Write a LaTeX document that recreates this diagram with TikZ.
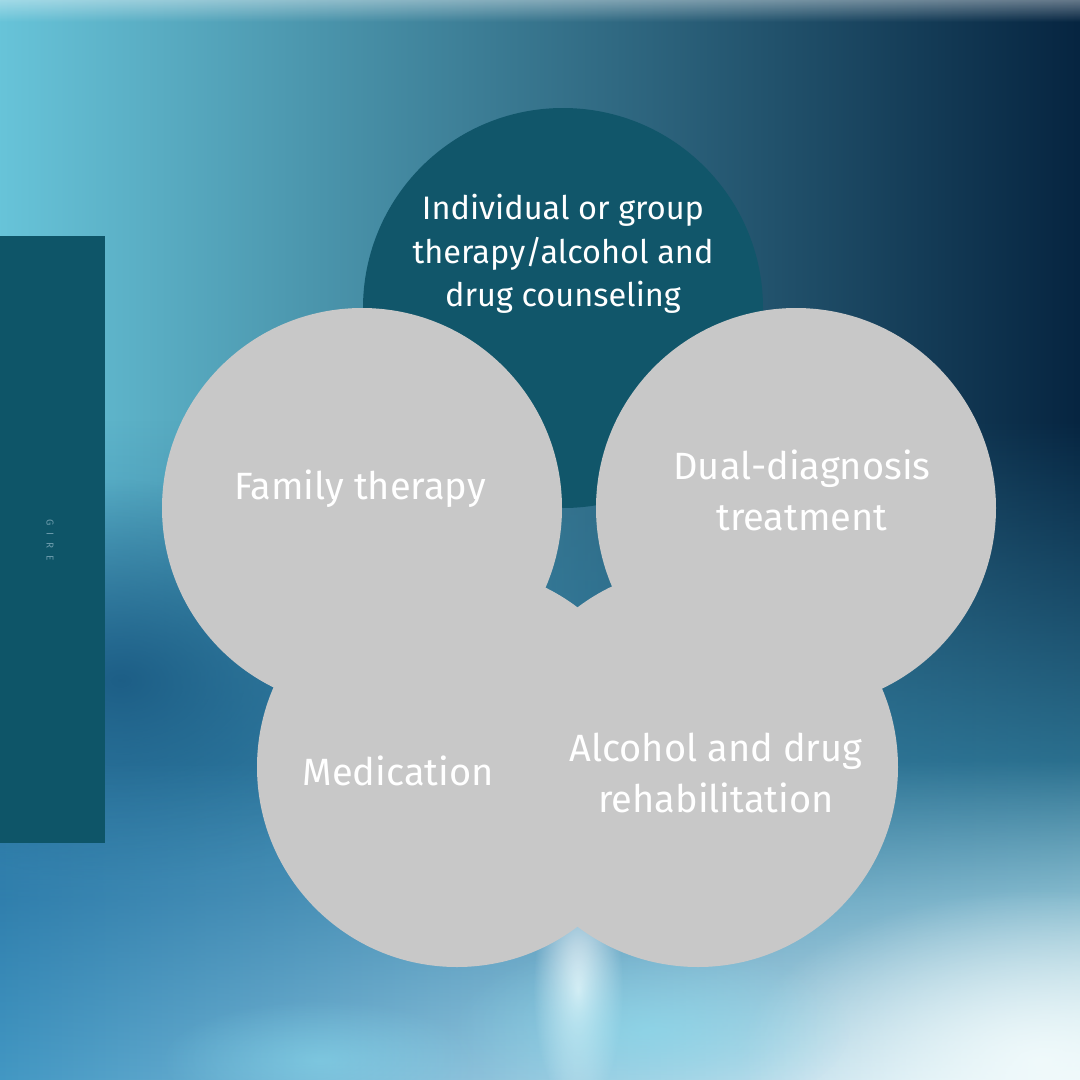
\documentclass[tikz,border=0pt]{standalone}
\usepackage{fontspec}
\setmainfont{Fira Sans}
\usetikzlibrary{fadings}
\definecolor{darkc}{HTML}{11566A}
\definecolor{greyc}{HTML}{C8C8C8}
\definecolor{barc}{HTML}{0E5568}
\definecolor{bgA}{HTML}{68C5DA}
\definecolor{bgB}{HTML}{3189B2}
\definecolor{bgC}{HTML}{05233F}
\definecolor{midA}{HTML}{226C9C}
\definecolor{midB}{HTML}{3A98C0}
\definecolor{midC}{HTML}{3A8EAE}
\definecolor{loA}{HTML}{4298C4}
\definecolor{loB}{HTML}{8ADDEE}
\definecolor{loC}{HTML}{F2FBFC}
\definecolor{deepL}{HTML}{17567F}
\definecolor{gireC}{HTML}{6C9CAC}
\tikzfading[name=fadeup, top color=transparent!100, bottom color=transparent!0]
\tikzfading[name=fadedown, top color=transparent!0, bottom color=transparent!100]
\tikzfading[name=blob, inner color=transparent!0, outer color=transparent!100]
\tikzset{
  grey circ/.style={fill=greyc, draw=none},
  dark circ/.style={fill=darkc, draw=none},
  label big/.style={text=white, align=center, font=\fontsize{38}{51}\selectfont},
  label top/.style={text=white, align=center, font=\fontsize{32.5}{43.5}\selectfont},
}
\begin{document}
\begin{tikzpicture}[x=1pt,y=-1pt]
\useasboundingbox (0,0) rectangle (1080,1080);
\begin{scope}
\clip (0,0) rectangle (1080,1080);
% background
\shade[left color=bgA, middle color=bgB, right color=bgC] (-10,-10) rectangle (1090,1090);
\shade[left color=midA, middle color=midB, right color=midC, path fading=fadeup] (-10,420) rectangle (1090,901);
\shade[left color=midA, middle color=midB, right color=midC] (-10,899) rectangle (1090,1090);
\fill[deepL, path fading=blob, fill opacity=0.85] (120,680) ellipse [x radius=300pt, y radius=200pt];
\shade[left color=loA, middle color=loB, right color=loC, path fading=fadeup] (-10,760) rectangle (1090,1090);
\fill[loC, path fading=blob, fill opacity=0.9] (1040,1060) ellipse [x radius=300pt, y radius=170pt];
\fill[white, path fading=blob, fill opacity=0.85] (578,990) ellipse [x radius=45pt, y radius=120pt];
\fill[loB, path fading=blob, fill opacity=0.6] (650,1030) ellipse [x radius=200pt, y radius=90pt];
\fill[loB, path fading=blob, fill opacity=0.5] (320,1060) ellipse [x radius=160pt, y radius=60pt];
\fill[white, path fading=fadedown, fill opacity=0.55] (-10,-10) rectangle (1090,22);
\end{scope}
% left bar
\fill[barc] (0,236) rectangle (105,843);
\node[text=gireC, rotate=-90, font=\fontsize{10}{10}\selectfont] (gire) at (50,540) {G\hspace{7pt}I\hspace{7pt}R\hspace{7pt}E};
% circles
\fill[dark circ] (563,308) circle[radius=200pt];
\fill[grey circ] (362,508) circle[radius=200pt];
\fill[grey circ] (796,508) circle[radius=200pt];
\fill[grey circ] (457,767) circle[radius=200pt];
\fill[grey circ] (698,767) circle[radius=200pt];
% labels
\node[label top] (top) at (563,254) {Individual or group\\therapy/alcohol and\\drug counseling};
\node[label big] (fam) at (360,489) {Family therapy};
\node[label big] (dual) at (802,490) {Dual-diagnosis\\treatment};
\node[label big] (med) at (398,771) {Medication};
\node[label big] (alc) at (716,773) {Alcohol and drug\\rehabilitation};
\end{tikzpicture}
\end{document}
